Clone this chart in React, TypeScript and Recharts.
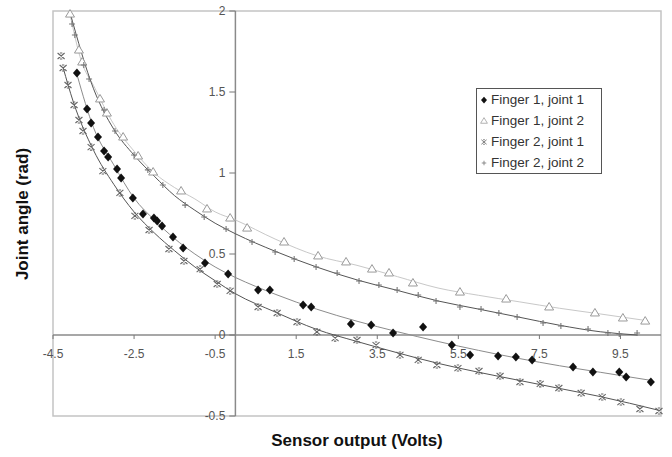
import React from 'react';
import { ComposedChart, Scatter, Line, XAxis, YAxis, ReferenceLine, ReferenceArea, Legend } from 'recharts';

const FONT = '"Liberation Sans", Arial, sans-serif';

const xTicks = [-4.5, -2.5, -0.5, 1.5, 3.5, 5.5, 7.5, 9.5];
const yTicks = [-0.5, 0, 0.5, 1, 1.5, 2];

const seriesNames = ['Finger 1, joint 1', 'Finger 1, joint 2', 'Finger 2, joint 1', 'Finger 2, joint 2'];

// measured points
const f1j1 = [
  { x: -3.91, y: 1.617 }, { x: -3.66, y: 1.395 }, { x: -3.56, y: 1.309 }, { x: -3.39, y: 1.222 },
  { x: -3.24, y: 1.136 }, { x: -3.14, y: 1.099 }, { x: -2.92, y: 1.025 }, { x: -2.82, y: 0.969 },
  { x: -2.53, y: 0.846 }, { x: -2.28, y: 0.747 }, { x: -2.01, y: 0.722 }, { x: -1.93, y: 0.704 },
  { x: -1.81, y: 0.673 }, { x: -1.54, y: 0.605 }, { x: -1.29, y: 0.537 }, { x: -0.75, y: 0.444 },
  { x: -0.18, y: 0.377 }, { x: 0.56, y: 0.278 }, { x: 0.85, y: 0.278 }, { x: 1.67, y: 0.185 },
  { x: 1.87, y: 0.173 }, { x: 2.85, y: 0.068 }, { x: 3.35, y: 0.062 }, { x: 3.89, y: 0.012 },
  { x: 4.63, y: 0.049 }, { x: 5.34, y: -0.062 }, { x: 5.79, y: -0.123 }, { x: 6.48, y: -0.13 },
  { x: 6.92, y: -0.136 }, { x: 7.32, y: -0.154 }, { x: 8.33, y: -0.198 }, { x: 8.82, y: -0.228 },
  { x: 9.47, y: -0.228 }, { x: 9.64, y: -0.259 }, { x: 10.25, y: -0.29 },
];

const f1j2 = [
  { x: -4.08, y: 1.981 }, { x: -3.86, y: 1.759 }, { x: -3.78, y: 1.685 }, { x: -3.34, y: 1.457 },
  { x: -3.17, y: 1.37 }, { x: -2.77, y: 1.222 }, { x: -2.4, y: 1.105 }, { x: -2.03, y: 1.006 },
  { x: -1.34, y: 0.889 }, { x: -0.7, y: 0.778 }, { x: -0.13, y: 0.722 }, { x: 0.29, y: 0.66 },
  { x: 1.2, y: 0.574 }, { x: 2.04, y: 0.488 }, { x: 2.73, y: 0.451 }, { x: 3.37, y: 0.407 },
  { x: 3.79, y: 0.383 }, { x: 4.38, y: 0.321 }, { x: 5.54, y: 0.265 }, { x: 6.68, y: 0.222 },
  { x: 7.74, y: 0.173 }, { x: 8.87, y: 0.136 }, { x: 9.56, y: 0.105 }, { x: 10.11, y: 0.086 },
];

const f2j1 = [
  { x: -4.3, y: 1.722 }, { x: -4.25, y: 1.648 }, { x: -4.13, y: 1.543 }, { x: -3.98, y: 1.42 },
  { x: -3.86, y: 1.327 }, { x: -3.76, y: 1.259 }, { x: -3.56, y: 1.16 }, { x: -3.27, y: 1.012 },
  { x: -2.85, y: 0.877 }, { x: -2.48, y: 0.735 }, { x: -2.13, y: 0.648 }, { x: -1.64, y: 0.531 },
  { x: -1.27, y: 0.457 }, { x: -0.87, y: 0.407 }, { x: -0.45, y: 0.315 }, { x: -0.13, y: 0.272 },
  { x: 0.56, y: 0.173 }, { x: 1.03, y: 0.136 }, { x: 1.52, y: 0.08 }, { x: 2.01, y: 0.019 },
  { x: 2.46, y: -0.019 }, { x: 3.0, y: -0.031 }, { x: 3.47, y: -0.062 }, { x: 4.06, y: -0.123 },
  { x: 4.51, y: -0.154 }, { x: 4.97, y: -0.185 }, { x: 5.49, y: -0.204 }, { x: 6.01, y: -0.222 },
  { x: 6.53, y: -0.253 }, { x: 7.02, y: -0.29 }, { x: 7.52, y: -0.302 }, { x: 7.98, y: -0.327 },
  { x: 8.53, y: -0.358 }, { x: 9.05, y: -0.383 }, { x: 9.51, y: -0.414 }, { x: 9.98, y: -0.457 },
  { x: 10.45, y: -0.469 },
];

const f2j2 = [
  { x: -4.03, y: 1.92 }, { x: -3.96, y: 1.852 }, { x: -3.74, y: 1.667 }, { x: -3.61, y: 1.58 },
  { x: -3.24, y: 1.389 }, { x: -2.97, y: 1.259 }, { x: -2.5, y: 1.111 }, { x: -2.16, y: 1.019 },
  { x: -1.79, y: 0.926 }, { x: -1.24, y: 0.802 }, { x: -0.77, y: 0.728 }, { x: -0.23, y: 0.654 },
  { x: 0.41, y: 0.574 }, { x: 0.98, y: 0.512 }, { x: 1.45, y: 0.469 }, { x: 1.99, y: 0.42 },
  { x: 2.51, y: 0.383 }, { x: 3.05, y: 0.333 }, { x: 3.54, y: 0.309 }, { x: 3.99, y: 0.278 },
  { x: 4.51, y: 0.247 }, { x: 4.95, y: 0.21 }, { x: 5.54, y: 0.173 }, { x: 6.06, y: 0.16 },
  { x: 6.5, y: 0.136 }, { x: 6.95, y: 0.111 }, { x: 7.59, y: 0.074 }, { x: 8.03, y: 0.056 },
  { x: 8.7, y: 0.037 }, { x: 9.19, y: 0.012 }, { x: 9.47, y: 0.006 }, { x: 9.91, y: 0.012 },
];

// trend curves
const trendF1J1 = [
  { x: -3.9, y: 1.6 }, { x: -3.5, y: 1.28 }, { x: -3.0, y: 1.05 }, { x: -2.5, y: 0.845 },
  { x: -2.0, y: 0.71 }, { x: -1.5, y: 0.595 }, { x: -1.0, y: 0.5 }, { x: -0.5, y: 0.42 },
  { x: 0, y: 0.355 }, { x: 0.5, y: 0.3 }, { x: 1, y: 0.25 }, { x: 2, y: 0.16 }, { x: 3, y: 0.085 },
  { x: 4, y: 0.02 }, { x: 5, y: -0.04 }, { x: 6, y: -0.095 }, { x: 7, y: -0.145 },
  { x: 8, y: -0.19 }, { x: 9, y: -0.23 }, { x: 10.25, y: -0.28 },
];

const trendF1J2 = [
  { x: -4.08, y: 1.98 }, { x: -3.8, y: 1.69 }, { x: -3.5, y: 1.54 }, { x: -3.0, y: 1.3 },
  { x: -2.5, y: 1.135 }, { x: -2.0, y: 1.0 }, { x: -1.5, y: 0.91 }, { x: -1.0, y: 0.84 },
  { x: -0.5, y: 0.76 }, { x: 0, y: 0.71 }, { x: 1, y: 0.59 }, { x: 2, y: 0.49 }, { x: 3, y: 0.43 },
  { x: 4, y: 0.36 }, { x: 5, y: 0.29 }, { x: 6, y: 0.245 }, { x: 7, y: 0.205 }, { x: 8, y: 0.165 },
  { x: 9, y: 0.13 }, { x: 10.11, y: 0.09 },
];

const trendF2J1 = [
  { x: -4.25, y: 1.65 }, { x: -4.0, y: 1.44 }, { x: -3.5, y: 1.14 }, { x: -3.0, y: 0.93 },
  { x: -2.5, y: 0.76 }, { x: -2.0, y: 0.63 }, { x: -1.5, y: 0.52 }, { x: -1.0, y: 0.42 },
  { x: -0.5, y: 0.335 }, { x: 0, y: 0.255 }, { x: 1, y: 0.14 }, { x: 2, y: 0.035 },
  { x: 3, y: -0.04 }, { x: 4, y: -0.11 }, { x: 5, y: -0.175 }, { x: 6, y: -0.23 },
  { x: 7, y: -0.28 }, { x: 8, y: -0.33 }, { x: 9, y: -0.38 }, { x: 10.45, y: -0.465 },
];

const trendF2J2 = [
  { x: -4.08, y: 1.99 }, { x: -3.5, y: 1.52 }, { x: -3.0, y: 1.27 }, { x: -2.5, y: 1.11 },
  { x: -2.0, y: 0.98 }, { x: -1.5, y: 0.86 }, { x: -1.0, y: 0.77 }, { x: -0.5, y: 0.69 },
  { x: 0, y: 0.625 }, { x: 1, y: 0.515 }, { x: 2, y: 0.42 }, { x: 3, y: 0.34 }, { x: 4, y: 0.275 },
  { x: 5, y: 0.21 }, { x: 6, y: 0.16 }, { x: 7, y: 0.11 }, { x: 8, y: 0.06 }, { x: 9, y: 0.02 },
  { x: 9.91, y: 0.0 },
];

const Diamond = ({ cx, cy }: any) => (
  <path d={`M${cx},${cy - 4.5}L${cx + 4},${cy}L${cx},${cy + 4.5}L${cx - 4},${cy}Z`} fill="#111" />
);
const Triangle = ({ cx, cy }: any) => (
  <path d={`M${cx},${cy - 4.5}L${cx + 4.5},${cy + 3}L${cx - 4.5},${cy + 3}Z`} fill="#fff" stroke="#9a9a9a" strokeWidth={1} />
);
const Cross = ({ cx, cy }: any) => (
  <path d={`M${cx - 3.5},${cy - 3}L${cx + 3.5},${cy + 3}M${cx - 3.5},${cy + 3}L${cx + 3.5},${cy - 3}M${cx - 1.2},${cy - 3}L${cx + 1.2},${cy - 3}M${cx - 1.2},${cy + 3}L${cx + 1.2},${cy + 3}`} stroke="#666" strokeWidth={1.1} fill="none" />
);
const Plus = ({ cx, cy }: any) => (
  <path d={`M${cx - 3},${cy}L${cx + 3},${cy}M${cx},${cy - 3}L${cx},${cy + 3}`} stroke="#777" strokeWidth={1.1} fill="none" />
);

const markers = [Diamond, Triangle, Cross, Plus];

const LegendBox = () => (
  <div style={{ border: '1px solid #555', background: '#fff', width: 123, fontFamily: FONT, fontSize: 13.5, color: '#333', lineHeight: '21px', paddingLeft: 1, boxSizing: 'content-box' }}>
    {seriesNames.map((name, i) => {
      const M = markers[i];
      return (
        <div key={name} style={{ display: 'flex', alignItems: 'center', whiteSpace: 'nowrap' }}>
          <svg width={12} height={12} style={{ transform: 'scale(0.75)' }}>
            <M cx={6} cy={6} />
          </svg>
          <span style={{ marginLeft: 1 }}>{name}</span>
        </div>
      );
    })}
  </div>
);

const tickLabel = { fill: '#555', fontSize: 12, fontFamily: FONT };

export default function App() {
  return (
    <div style={{ position: 'absolute', left: 0, top: 0, width: 672, height: 457, background: '#fff' }}>
      <ComposedChart width={672} height={457} margin={{ top: 11, right: 11, bottom: 41, left: 53 }}>
        <XAxis type="number" dataKey="x" domain={[-4.5, 10.5]} ticks={xTicks} hide />
        <YAxis type="number" dataKey="y" domain={[-0.5, 2]} ticks={yTicks} hide />
        <ReferenceArea x1={-4.5} x2={10.5} y1={-0.5} y2={2} fill="none" stroke="#c4c4c4" strokeWidth={1.5} />
        <ReferenceLine x={0} stroke="#8a8a8a" strokeWidth={1.5} />
        <ReferenceLine y={0} stroke="#8a8a8a" strokeWidth={1.5} />
        {xTicks.map((v) => (
          <ReferenceLine
            key={`xt${v}`}
            segment={[{ x: v, y: 0 }, { x: v, y: -0.025 }]}
            stroke="#777"
            label={{ value: String(v), position: 'bottom', offset: 10, ...tickLabel }}
          />
        ))}
        {yTicks.map((v) => (
          <ReferenceLine
            key={`yt${v}`}
            segment={[{ x: -0.15, y: v }, { x: 0, y: v }]}
            stroke="#777"
            label={{ value: String(v), position: 'left', offset: 4, ...tickLabel }}
          />
        ))}
        <Line data={trendF1J2} dataKey="y" type="monotone" dot={false} stroke="#c8c8c8" strokeWidth={1} isAnimationActive={false} legendType="none" />
        <Line data={trendF1J1} dataKey="y" type="monotone" dot={false} stroke="#8c8c8c" strokeWidth={1} isAnimationActive={false} legendType="none" />
        <Line data={trendF2J2} dataKey="y" type="monotone" dot={false} stroke="#555" strokeWidth={1} isAnimationActive={false} legendType="none" />
        <Line data={trendF2J1} dataKey="y" type="monotone" dot={false} stroke="#555" strokeWidth={1} isAnimationActive={false} legendType="none" />
        <Scatter name={seriesNames[1]} data={f1j2} dataKey="y" shape={Triangle} isAnimationActive={false} />
        <Scatter name={seriesNames[3]} data={f2j2} dataKey="y" shape={Plus} isAnimationActive={false} />
        <Scatter name={seriesNames[2]} data={f2j1} dataKey="y" shape={Cross} isAnimationActive={false} />
        <Scatter name={seriesNames[0]} data={f1j1} dataKey="y" shape={Diamond} isAnimationActive={false} />
        <Legend
          layout="vertical"
          align="center"
          verticalAlign="middle"
          content={() => <LegendBox />}
          wrapperStyle={{ position: 'absolute', left: 476, top: 88, width: 'auto' }}
        />
      </ComposedChart>
      <div style={{ position: 'absolute', left: 0, top: 431, width: 714, textAlign: 'center', fontFamily: FONT, fontWeight: 'bold', fontSize: 17, color: '#111' }}>
        Sensor output (Volts)
      </div>
      <div style={{ position: 'absolute', left: 23, top: 214, transform: 'translate(-50%, -50%) rotate(-90deg)', whiteSpace: 'nowrap', fontFamily: FONT, fontWeight: 'bold', fontSize: 17, color: '#111' }}>
        Joint angle (rad)
      </div>
    </div>
  );
}
